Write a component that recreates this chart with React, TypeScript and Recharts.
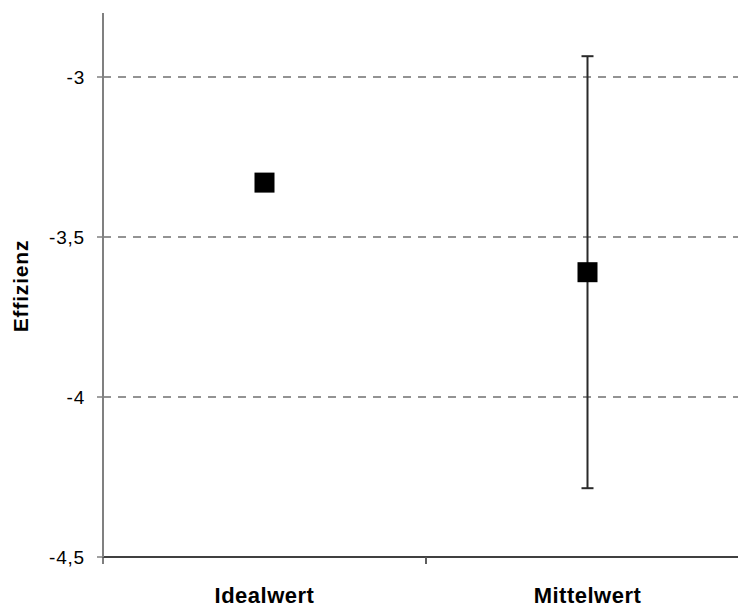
import React from 'react';
import { ComposedChart, Scatter, XAxis, YAxis, CartesianGrid, ErrorBar } from 'recharts';

const categories = ['Idealwert', 'Mittelwert'];
const values = [-3.33, -3.61];
const errors = [0, 0.675];
const yTicks = [-4.5, -4, -3.5, -3];
const gridValues = [-4, -3.5, -3];

const data = categories.map((name, i) => ({ name, value: values[i], err: errors[i] }));

const FONT = '"Liberation Sans", Arial, sans-serif';

const SquareShape = (props: any) => {
  const { cx, cy } = props;
  if (cx == null || cy == null) return null;
  return <rect x={cx - 10} y={cy - 10} width={20} height={20} fill="#000" />;
};

const XTick = (props: any) => {
  const { x, y, payload } = props;
  const off = payload && payload.offset ? payload.offset : 0;
  return (
    <g>
      {off ? (
        <>
          <line x1={x - off} y1={y - 8} x2={x - off} y2={y - 1} stroke="#555" strokeWidth={1.5} />
          <line x1={x + off} y1={y - 8} x2={x + off} y2={y - 1} stroke="#555" strokeWidth={1.5} />
        </>
      ) : null}
      <text
        x={x}
        y={y + 38}
        textAnchor="middle"
        fontFamily={FONT}
        fontWeight="bold"
        fontSize={22}
        letterSpacing={0.5}
        fill="#000"
      >
        {payload.value}
      </text>
    </g>
  );
};

const YLabel = () => (
  <text
    x={20}
    y={286}
    transform="rotate(-90 20 286)"
    textAnchor="middle"
    dominantBaseline="central"
    fontFamily={FONT}
    fontWeight="bold"
    fontSize={21}
    letterSpacing={0.8}
    fill="#000"
  >
    Effizienz
  </text>
);

export default function App() {
  return (
    <div style={{ position: 'fixed', left: 0, top: 0, width: 738, height: 608, overflow: 'hidden', background: '#fff' }}>
      <style>{`body{margin:0;overflow:hidden;background:#fff}`}</style>
      <ComposedChart
        width={760}
        height={608}
        data={data}
        margin={{ top: 13, right: 11, bottom: 0, left: 0 }}
      >
        <CartesianGrid
          horizontal={true}
          vertical={false}
          horizontalValues={gridValues}
          stroke="#707070"
          strokeDasharray="8 7"
          strokeWidth={1.6}
        />
        <XAxis
          dataKey="name"
          type="category"
          scale="band"
          height={51}
          axisLine={{ stroke: '#000', strokeWidth: 1.5 }}
          tickLine={false}
          tick={<XTick />}
          interval={0}
        />
        <YAxis
          type="number"
          domain={[-4.5, -2.8]}
          ticks={yTicks}
          width={103}
          axisLine={{ stroke: '#808080', strokeWidth: 2 }}
          tickLine={{ stroke: '#808080', strokeWidth: 1.5 }}
          tickSize={6}
          tickMargin={12}
          tickFormatter={(v: number) => String(v).replace('.', ',')}
          tick={{ fill: '#000', fontSize: 19, fontFamily: FONT, letterSpacing: 0.8 }}
          allowDataOverflow={true}
          label={<YLabel />}
        />
        <Scatter dataKey="value" shape={<SquareShape />} isAnimationActive={false}>
          <ErrorBar dataKey="err" direction="y" width={6} stroke="#2a2a2a" strokeWidth={2} isAnimationActive={false} />
        </Scatter>
      </ComposedChart>
    </div>
  );
}
